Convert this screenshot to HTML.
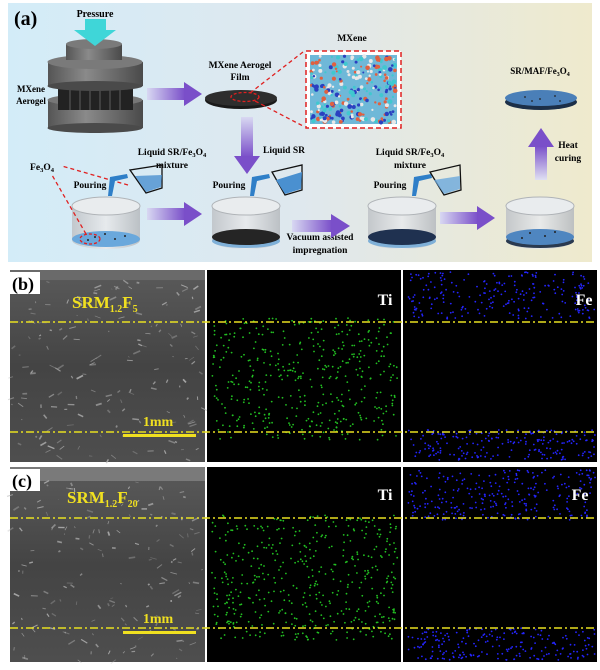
<!DOCTYPE html>
<html><head><meta charset="utf-8"><style>
html,body{margin:0;padding:0;background:#fff;width:600px;height:670px;overflow:hidden}
svg{display:block}
text{font-family:"Liberation Serif",serif;font-weight:bold}
</style></head><body>
<svg width="600" height="670" viewBox="0 0 600 670" xmlns="http://www.w3.org/2000/svg">
<defs>
<linearGradient id="bg" x1="0" x2="1" y1="0" y2="0">
<stop offset="0" stop-color="#d3ecf8"/><stop offset="0.5" stop-color="#dfe8ee"/><stop offset="1" stop-color="#efeacd"/>
</linearGradient>
<linearGradient id="ar" x1="0" x2="1"><stop offset="0" stop-color="#d8d8f2"/><stop offset="1" stop-color="#7a4fc9"/></linearGradient>
<linearGradient id="arv" x1="0" x2="0" y1="0" y2="1"><stop offset="0" stop-color="#d8d8f2"/><stop offset="1" stop-color="#7a4fc9"/></linearGradient>
<linearGradient id="aru" x1="0" x2="0" y1="1" y2="0"><stop offset="0" stop-color="#e0e0f2"/><stop offset="1" stop-color="#7a4fc9"/></linearGradient>
<linearGradient id="gr" x1="0" x2="1"><stop offset="0" stop-color="#555"/><stop offset="0.4" stop-color="#8a8a8a"/><stop offset="1" stop-color="#4a4a4a"/></linearGradient>
<linearGradient id="cup" x1="0" x2="1"><stop offset="0" stop-color="#c0c4c8"/><stop offset="0.5" stop-color="#e8eaec"/><stop offset="1" stop-color="#b8bcc0"/></linearGradient>
<linearGradient id="sem" x1="0" x2="0" y1="0" y2="1"><stop offset="0" stop-color="#5a5a5a"/><stop offset="0.5" stop-color="#444"/><stop offset="1" stop-color="#4e4e4e"/></linearGradient>
<g id="beaker">
<path d="M-34,0 L-34,34 A34,9 0 0 0 34,34 L34,0 Z" fill="url(#cup)" opacity="0.9"/>
<ellipse cx="0" cy="0" rx="34" ry="9" fill="#e9ecee" stroke="#b0b4b8"/>
</g>
</defs>
<rect x="8" y="3" width="584" height="259" fill="url(#bg)"/>
<text x="14" y="25" font-size="20">(a)</text>
<text x="95" y="17" font-size="10" text-anchor="middle">Pressure</text>
<!-- press -->
<rect x="48" y="100" width="95" height="28" fill="url(#gr)"/><ellipse cx="95" cy="128" rx="47.5" ry="5" fill="#4a4a4a"/><ellipse cx="95" cy="100" rx="47.5" ry="6" fill="#777"/>
<rect x="58" y="84" width="75" height="26" fill="#222"/>
<g stroke="#555" stroke-width="1.2">
<line x1="70" y1="86" x2="70" y2="110"/><line x1="80" y1="86" x2="80" y2="110"/><line x1="90" y1="86" x2="90" y2="110"/><line x1="100" y1="86" x2="100" y2="110"/><line x1="110" y1="86" x2="110" y2="110"/><line x1="120" y1="86" x2="120" y2="110"/>
</g>
<rect x="48" y="62" width="95" height="24" fill="url(#gr)"/><ellipse cx="95" cy="86" rx="47.5" ry="5" fill="#4a4a4a"/><ellipse cx="95" cy="62" rx="47.5" ry="7" fill="#7a7a7a"/>
<rect x="66" y="44" width="56" height="16" fill="url(#gr)"/><ellipse cx="94" cy="44" rx="28" ry="5" fill="#7a7a7a"/>
<polygon points="85,19 106,19 106,30 116,30 95,46 74,30 85,30" fill="#3fd6d8"/>
<text x="31" y="92" font-size="9" text-anchor="middle">MXene</text>
<text x="31" y="104" font-size="9" text-anchor="middle">Aerogel</text>
<!-- arrow 1 -->
<rect x="147" y="88" width="38" height="12" fill="url(#ar)"/><polygon points="184,82 202,94 184,106" fill="#7a4fc9"/>
<text x="240" y="68" font-size="9.5" text-anchor="middle">MXene Aerogel</text>
<text x="240" y="80" font-size="9.5" text-anchor="middle">Film</text>
<ellipse cx="241" cy="100" rx="36" ry="9" fill="#1a1a1a"/><ellipse cx="241" cy="98" rx="36" ry="8" fill="#2e2e2e"/>
<ellipse cx="245" cy="97" rx="14" ry="4.5" fill="none" stroke="#e02020" stroke-dasharray="3,2" stroke-width="1.3"/>
<line x1="250" y1="93" x2="303" y2="52" stroke="#e02020" stroke-dasharray="4,3" stroke-width="1.3"/>
<line x1="255" y1="101" x2="303" y2="126" stroke="#e02020" stroke-dasharray="4,3" stroke-width="1.3"/>
<text x="352" y="41" font-size="9.5" text-anchor="middle">MXene</text>
<rect x="306" y="51" width="95" height="77" fill="#fff"/>
<rect x="310" y="55" width="87" height="69" fill="#6fb8d8"/>
<g id="mx"></g>
<rect x="306" y="51" width="95" height="77" fill="none" stroke="#e02020" stroke-width="1.5" stroke-dasharray="5,3"/>
<!-- vertical arrow -->
<rect x="241" y="117" width="12" height="40" fill="url(#arv)"/><polygon points="234,156 260,156 247,174" fill="#7a4fc9"/>
<text x="284" y="153" font-size="9.5" text-anchor="middle">Liquid SR</text>
<!-- right top -->
<text x="540" y="74" font-size="9" text-anchor="middle">SR/MAF/Fe<tspan font-size="6" dy="2">3</tspan><tspan dy="-2">O</tspan><tspan font-size="6" dy="2">4</tspan></text>
<ellipse cx="541" cy="102" rx="36" ry="8" fill="#1c2f48"/><ellipse cx="541" cy="98" rx="36" ry="8" fill="#4a7fb8"/>
<g fill="#222"><circle cx="525" cy="97" r="0.9"/><circle cx="540" cy="99" r="0.9"/><circle cx="555" cy="96" r="0.9"/><circle cx="532" cy="101" r="0.9"/><circle cx="560" cy="101" r="0.9"/></g>
<rect x="535" y="146" width="12" height="34" fill="url(#aru)"/><polygon points="528,147 554,147 541,128" fill="#7a4fc9"/>
<text x="568" y="148" font-size="9.5" text-anchor="middle">Heat</text>
<text x="568" y="161" font-size="9.5" text-anchor="middle">curing</text>
<!-- labels lower -->
<text x="172" y="155" font-size="9.5" text-anchor="middle">Liquid SR/Fe<tspan font-size="6.5" dy="2">3</tspan><tspan dy="-2">O</tspan><tspan font-size="6.5" dy="2">4</tspan></text>
<text x="172" y="168" font-size="9.5" text-anchor="middle">mixture</text>
<text x="410" y="155" font-size="9.5" text-anchor="middle">Liquid SR/Fe<tspan font-size="6.5" dy="2">3</tspan><tspan dy="-2">O</tspan><tspan font-size="6.5" dy="2">4</tspan></text>
<text x="410" y="168" font-size="9.5" text-anchor="middle">mixture</text>
<text x="42" y="170" font-size="9.5" text-anchor="middle">Fe<tspan font-size="6.5" dy="2">3</tspan><tspan dy="-2">O</tspan><tspan font-size="6.5" dy="2">4</tspan></text>
<text x="90" y="188" font-size="9.5" text-anchor="middle">Pouring</text>
<text x="229" y="188" font-size="9.5" text-anchor="middle">Pouring</text>
<text x="390" y="188" font-size="9.5" text-anchor="middle">Pouring</text>
<text x="320" y="240" font-size="9.5" text-anchor="middle">Vacuum assisted</text>
<text x="320" y="253" font-size="9.5" text-anchor="middle">impregnation</text>
<!-- beakers -->
<g transform="translate(106,206)"><use href="#beaker"/><ellipse cx="0" cy="33" rx="34" ry="8" fill="#6aa8dc"/></g>
<g transform="translate(246,206)"><use href="#beaker"/><ellipse cx="0" cy="35" rx="34" ry="7" fill="#7fb0d8"/><ellipse cx="0" cy="31" rx="34" ry="8" fill="#252525"/></g>
<g transform="translate(402,206)"><use href="#beaker"/><ellipse cx="0" cy="35" rx="34" ry="7" fill="#7fb0d8"/><ellipse cx="0" cy="31" rx="34" ry="8" fill="#1f3150"/></g>
<g transform="translate(540,206)"><use href="#beaker"/><ellipse cx="0" cy="35" rx="34" ry="7" fill="#2a3a50"/><ellipse cx="0" cy="31" rx="34" ry="8" fill="#4f86c0"/></g>
<g fill="#222"><circle cx="95" cy="237" r="1"/><circle cx="105" cy="234" r="1"/><circle cx="115" cy="239" r="1"/><circle cx="125" cy="236" r="1"/><circle cx="88" cy="240" r="1"/><circle cx="530" cy="233" r="1"/><circle cx="545" cy="236" r="1"/><circle cx="555" cy="232" r="1"/><circle cx="522" cy="238" r="1"/></g>
<ellipse cx="90" cy="239" rx="10" ry="5" fill="none" stroke="#e02020" stroke-dasharray="3,2" stroke-width="1.3"/>
<line x1="86" y1="234" x2="52" y2="175" stroke="#e02020" stroke-dasharray="4,3" stroke-width="1.3"/>
<line x1="128" y1="185" x2="62" y2="166" stroke="#e02020" stroke-dasharray="4,3" stroke-width="1.3"/>
<!-- pour cups -->
<g fill="#2f7fc8"><polygon points="108,196 112,196 115,181 128,178 127,174 110,177"/>
<polygon points="250,196 254,196 257,181 270,178 269,174 252,177"/>
<polygon points="412,196 416,196 419,181 432,178 431,174 414,177"/></g>
<g fill="none" stroke="#111" stroke-width="1.3">
<path d="M130,170 L146,193 L162,188 L162,165 Z"/><path d="M272,172 L285,195 L302,190 L302,165 Z"/><path d="M430,172 L444,195 L461,190 L460,165 Z"/></g>
<path d="M135,176 L146,192 L161,187 L162,175 Z" fill="#4a90d0" opacity="0.8"/>
<path d="M276,180 L285,194 L301,189 L302,172 Z" fill="#4a90d0"/>
<path d="M434,180 L444,194 L460,189 L460,176 Z" fill="#6aa8dc" opacity="0.8"/>
<!-- horizontal arrows -->
<g><rect x="147" y="208" width="38" height="12" fill="url(#ar)"/><polygon points="184,202 202,214 184,226" fill="#7a4fc9"/>
<rect x="292" y="220" width="40" height="12" fill="url(#ar)"/><polygon points="331,214 350,226 331,238" fill="#7a4fc9"/>
<rect x="440" y="212" width="38" height="12" fill="url(#ar)"/><polygon points="477,206 495,218 477,230" fill="#7a4fc9"/></g>

<!-- bottom panels -->
<rect x="10" y="270" width="195" height="192" fill="url(#sem)"/>
<rect x="10" y="467" width="195" height="195" fill="url(#sem)"/>
<rect x="10" y="270" width="195" height="10" fill="#6a6a6a"/>
<rect x="10" y="467" width="195" height="14" fill="#7a7a7a"/>
<rect x="207" y="270" width="194" height="192" fill="#000"/>
<rect x="403" y="270" width="194" height="192" fill="#000"/>
<rect x="207" y="467" width="194" height="195" fill="#000"/>
<rect x="403" y="467" width="194" height="195" fill="#000"/>
<g id="dots"></g>
<rect x="10" y="272" width="30" height="22" fill="#fff"/>
<text x="12" y="290" font-size="18">(b)</text>
<rect x="10" y="469" width="30" height="22" fill="#fff"/>
<text x="12" y="487" font-size="18">(c)</text>
<text x="72" y="308" font-size="17" fill="#f0e020">SRM<tspan font-size="10" dy="4">1.2</tspan><tspan dy="-4">F</tspan><tspan font-size="10" dy="4">5</tspan></text>
<text x="67" y="503" font-size="17" fill="#f0e020">SRM<tspan font-size="10" dy="4">1.2</tspan><tspan dy="-4">F</tspan><tspan font-size="10" dy="4">20</tspan></text>
<text x="385" y="305" font-size="16" fill="#fff" text-anchor="middle">Ti</text>
<text x="584" y="305" font-size="16" fill="#fff" text-anchor="middle">Fe</text>
<text x="385" y="500" font-size="16" fill="#fff" text-anchor="middle">Ti</text>
<text x="580" y="500" font-size="16" fill="#fff" text-anchor="middle">Fe</text>
<text x="158" y="426" font-size="14" fill="#f0e020" text-anchor="middle">1mm</text>
<rect x="123" y="434" width="73" height="3" fill="#f0e020"/>
<text x="158" y="623" font-size="14" fill="#f0e020" text-anchor="middle">1mm</text>
<rect x="123" y="631" width="73" height="3" fill="#f0e020"/>
<g stroke="#e8e020" stroke-width="1.5" stroke-dasharray="8,3,2,3">
<line x1="10" y1="322" x2="597" y2="322"/><line x1="10" y1="432" x2="597" y2="432"/>
<line x1="10" y1="518" x2="597" y2="518"/><line x1="10" y1="628" x2="597" y2="628"/>
</g>
</svg>
<script>
(function(){
var s=12345;function r(){s=(s*1103515245+12345)%2147483648;return s/2147483648;}
var h='';
function add(x0,x1,y0,y1,n,c){for(var i=0;i<n;i++){h+='<circle cx="'+(x0+r()*(x1-x0)).toFixed(1)+'" cy="'+(y0+r()*(y1-y0)).toFixed(1)+'" r="0.9" fill="'+c+'"/>';}}
function streaks(x0,x1,y0,y1,n){for(var i=0;i<n;i++){var x=x0+r()*(x1-x0),y=y0+r()*(y1-y0),dx=(r()-0.5)*14,dy=(r()-0.5)*8;h+='<line x1="'+x.toFixed(1)+'" y1="'+y.toFixed(1)+'" x2="'+(x+dx).toFixed(1)+'" y2="'+(y+dy).toFixed(1)+'" stroke="#bbb" stroke-opacity="'+(0.3+r()*0.5).toFixed(2)+'" stroke-width="'+(0.6+r()*1.2).toFixed(1)+'"/>';}}
add(212,398,318,440,420,'#22c022');
add(408,595,272,320,220,'#2525ff');add(408,595,430,460,200,'#2525ff');
add(212,398,515,640,450,'#22c022');
add(408,595,470,520,260,'#2525ff');add(408,595,628,660,200,'#2525ff');
streaks(12,203,280,460,160);streaks(12,203,482,660,160);
document.getElementById('dots').innerHTML=h;
var m='';var cols=['#e06040','#2a40c0','#40c8d0','#e8e8e8'];
for(var i=0;i<260;i++){var x=311+r()*85,y=56+r()*67;m+='<circle cx="'+x.toFixed(1)+'" cy="'+y.toFixed(1)+'" r="'+(1+r()*1.4).toFixed(1)+'" fill="'+cols[Math.floor(r()*4)]+'"/>';}
document.getElementById('mx').innerHTML=m;
})();
</script>
</body></html>
